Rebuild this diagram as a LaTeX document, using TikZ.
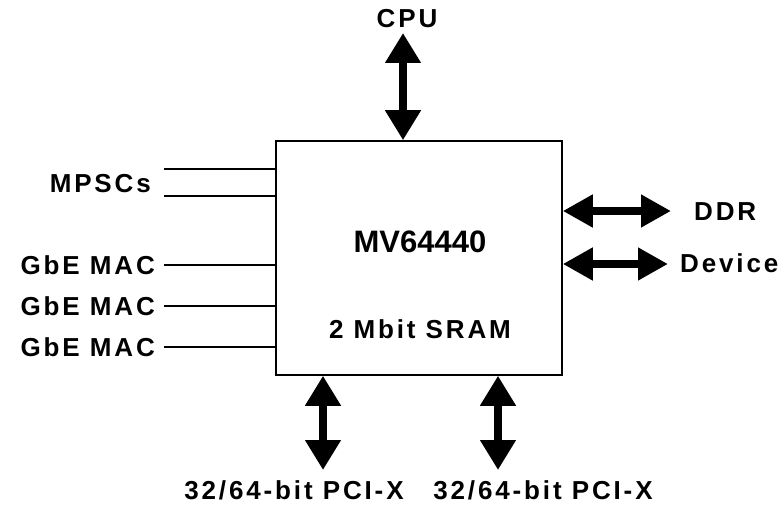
\documentclass[tikz,border=0pt]{standalone}
\usepackage{fontspec}
\setmainfont{Liberation Sans}
\newfontfamily\spaced{Liberation Sans}[LetterSpace=11]
\usetikzlibrary{arrows.meta}
\tikzset{
  lbl/.style={font=\spaced\bfseries\fontsize{26pt}{28pt}\selectfont, inner sep=0pt},
  chip/.style={draw, line width=1.5pt, minimum width=286pt, minimum height=234pt, inner sep=0pt},
  sig/.style={line width=1.5pt},
  vbus/.style={line width=8pt, {Triangle[width=34pt,length=30pt]}-{Triangle[width=34pt,length=30pt]}},
  hbus/.style={line width=8pt, {Triangle[width=31pt,length=30pt]}-{Triangle[width=31pt,length=30pt]}}
}
\begin{document}
\begin{tikzpicture}[x=1pt,y=-1pt]
\useasboundingbox (0,0) rectangle (784,510);
\node[chip] (box) at (419,258) {};
\node[font=\bfseries\fontsize{31pt}{33pt}\selectfont, inner sep=0pt] (mv) at (420,242) {MV64440};
\node[lbl] (sram) at (420,329) {2 Mbit SRAM};
\node[lbl] (cpu) at (407,19) {CPU};
\node[lbl, anchor=east] (mpscs) at (151,184) {MPSCs};
\node[lbl, anchor=east] (gbe1) at (155,265) {GbE MAC};
\node[lbl, anchor=east] (gbe2) at (155,306) {GbE MAC};
\node[lbl, anchor=east] (gbe3) at (155,347) {GbE MAC};
\node[lbl, anchor=west] (ddr) at (694,212) {DDR};
\node[lbl, anchor=west] (dev) at (680,263) {Device};
\node[lbl] (pci1) at (294,490) {32/64-bit PCI-X};
\node[lbl] (pci2) at (543,490) {32/64-bit PCI-X};
% free ends
\coordinate (m1) at (164,169);
\coordinate (m2) at (164,196);
\coordinate (g1) at (164,265);
\coordinate (g2) at (164,306);
\coordinate (g3) at (164,347);
\coordinate (cpuend) at (403,33);
\coordinate (ddrend) at (671,211);
\coordinate (devend) at (668,264);
\coordinate (p1) at (323,470);
\coordinate (p2) at (498,470);
% connectors
\draw[sig] (m1) -- (m1 -| box.west);
\draw[sig] (m2) -- (m2 -| box.west);
\draw[sig] (g1) -- (g1 -| box.west);
\draw[sig] (g2) -- (g2 -| box.west);
\draw[sig] (g3) -- (g3 -| box.west);
\draw[vbus] (cpuend) -- (cpuend |- box.north);
\draw[hbus] (ddrend -| box.east) -- (ddrend);
\draw[hbus] (devend -| box.east) -- (devend);
\draw[vbus] (p1 |- box.south) -- (p1);
\draw[vbus] (p2 |- box.south) -- (p2);
\end{tikzpicture}
\end{document}
